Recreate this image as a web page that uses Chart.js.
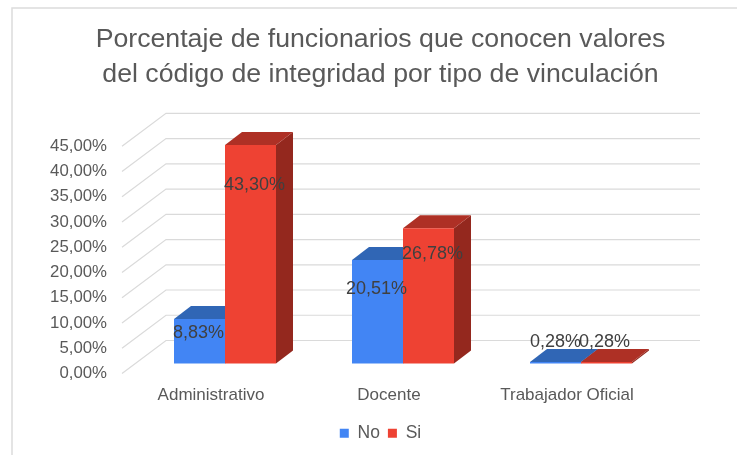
<!DOCTYPE html>
<html><head><meta charset="utf-8">
<style>html,body{margin:0;padding:0;background:#fff}canvas{display:block}</style>
<script src="https://cdn.jsdelivr.net/npm/chart.js@4"></script></head>
<body><canvas id="c" width="737" height="455"></canvas>
<script>
const titleLines = ["Porcentaje de funcionarios que conocen valores","del código de integridad por tipo de vinculación"];
const categories = ["Administrativo","Docente","Trabajador Oficial"];
const seriesNames = ["No","Si"];
const noValues = [8.83,20.51,0.28];
const siValues = [43.30,26.78,0.28];
const tickStep = 5, tickMax = 45;
// hand-placed value labels of the original: drop below the bar top, and side shift
const labelDrop = [[14,29,-20],[40,26,-20]];
const labelShift = [[-1,-1,0],[4,4,-2]];

const fronts=["#4285F4","#EE4233"], tops=["#3066B5","#AE3025"], sides=["#2C5AA0","#94281E"];
const barShift={x:14,y:-10}, barDepth={x:17,y:-13}, wallDepth={x:44,y:-33};
const pct=v=>v.toFixed(2).replace(".",",")+"%";

const scene={
  id:"scene",
  beforeDatasetsDraw(chart){
    const {ctx,chartArea:a,scales:{y}}=chart;
    ctx.save();
    ctx.strokeStyle="#DADADA";ctx.lineWidth=1.2;
    for(let v=0;v<=tickMax;v+=tickStep){
      const p=y.getPixelForValue(v);
      ctx.beginPath();ctx.moveTo(a.left,p);
      ctx.lineTo(a.left+wallDepth.x,p+wallDepth.y);
      ctx.lineTo(a.right+wallDepth.x,p+wallDepth.y);ctx.stroke();
    }
    ctx.translate(barShift.x,barShift.y);
    for(let d=0;d<2;d++){
      chart.getDatasetMeta(d).data.forEach(b=>{
        const l=b.x-b.width/2,r=b.x+b.width/2,t=b.y,bt=b.base,dx=barDepth.x,dy=barDepth.y;
        ctx.fillStyle=sides[d];ctx.beginPath();
        ctx.moveTo(r,t);ctx.lineTo(r+dx,t+dy);ctx.lineTo(r+dx,bt+dy);ctx.lineTo(r,bt);ctx.closePath();ctx.fill();
        ctx.fillStyle=tops[d];ctx.beginPath();
        ctx.moveTo(l,t);ctx.lineTo(l+dx,t+dy);ctx.lineTo(r+dx,t+dy);ctx.lineTo(r,t);ctx.closePath();ctx.fill();
      });
    }
    // the fronts drawn by the library share this shift; undone in afterDatasetsDraw
  },
  afterDatasetsDraw(chart){
    const {ctx}=chart;
    ctx.restore();
    ctx.save();
    ctx.font="18px 'Liberation Sans'";ctx.fillStyle="#404040";
    ctx.textAlign="center";ctx.textBaseline="middle";
    for(let d=0;d<2;d++){
      chart.getDatasetMeta(d).data.forEach((b,i)=>{
        const vals=d?siValues:noValues;
        ctx.fillText(pct(vals[i]),b.x+barShift.x+labelShift[d][i],b.y+barShift.y+labelDrop[d][i]);
      });
    }
    ctx.restore();
  },
  afterDraw(chart){
    const {ctx}=chart;ctx.save();ctx.strokeStyle="#DCDCDC";ctx.lineWidth=1.5;
    ctx.beginPath();ctx.moveTo(12,455);ctx.lineTo(12,8);ctx.lineTo(737,8);ctx.stroke();ctx.restore();
  }
};

new Chart(document.getElementById("c"),{
  type:"bar",
  data:{labels:categories,datasets:[
    {label:seriesNames[0],data:noValues,backgroundColor:fronts[0],clip:false,barPercentage:1,categoryPercentage:0.573,yAxisID:"y"},
    {label:seriesNames[1],data:siValues,backgroundColor:fronts[1],clip:false,barPercentage:1,categoryPercentage:0.573,yAxisID:"y"}
  ]},
  plugins:[scene],
  options:{
    responsive:false,animation:false,
    layout:{padding:{left:24,right:0,top:23,bottom:3}},
    plugins:{
      title:{display:true,text:titleLines,font:{family:"'Liberation Sans'",size:26.7,weight:"normal",lineHeight:1.28},color:"#595959",padding:{top:0,bottom:55}},
      legend:{position:"bottom",labels:{font:{family:"'Liberation Sans'",size:17.5},color:"#595959",boxWidth:9,boxHeight:9,padding:8}},
      tooltip:{enabled:false}
    },
    scales:{
      x:{grid:{display:false},border:{display:false},
         ticks:{font:{family:"'Liberation Sans'",size:17},color:"#595959",maxRotation:0,padding:4},
         afterFit(s){s.height=43}},
      y:{min:0,max:tickMax,grid:{display:false},border:{display:false},
         ticks:{stepSize:tickStep,callback:v=>pct(v),font:{family:"'Liberation Sans'",size:16.8},color:"#595959",padding:7},
         afterFit(s){s.width=98}},
      pad:{position:"right",display:true,grid:{display:false},border:{display:false},ticks:{display:false},afterFit(s){s.width=81}}
    }
  }
});
</script></body></html>
